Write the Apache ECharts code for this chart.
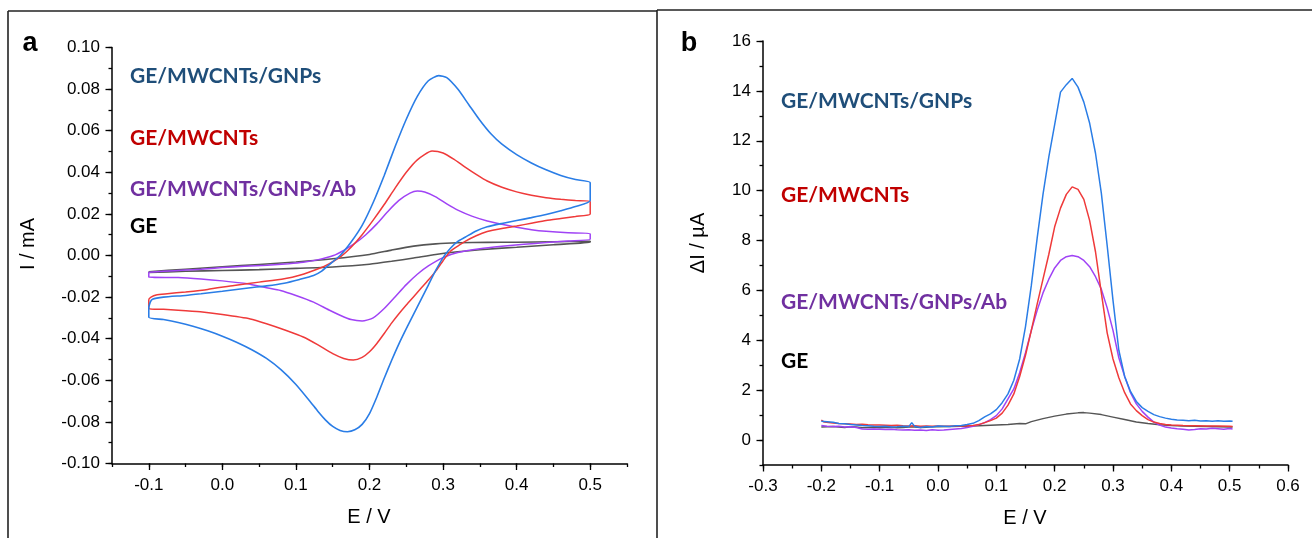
<!DOCTYPE html>
<html>
<head>
<meta charset="utf-8">
<script src="https://cdn.jsdelivr.net/npm/echarts@6/dist/echarts.min.js"></script>
<style>
html,body{margin:0;padding:0;background:#fff;}
#chart{width:1312px;height:538px;}
</style>
</head>
<body>
<div id="chart"></div>
<script>
// ---------- Panel a: cyclic voltammograms (E / V, I / mA) ----------
const cvBlueFwd = [[-0.1,-0.0248],[-0.098,-0.0224],[-0.095,-0.0210],[-0.08,-0.0200],[-0.05,-0.0192],[-0.029,-0.0184],[0.0,-0.0172],[0.038,-0.0155],[0.06,-0.0146],[0.084,-0.0133],[0.105,-0.0115],[0.124,-0.0096],[0.135,-0.0075],[0.145,-0.0045],[0.16,0.0],[0.175,0.0065],[0.19,0.0145],[0.205,0.0255],[0.22,0.0385],[0.235,0.0525],[0.25,0.0655],[0.265,0.0765],[0.28,0.0840],[0.294,0.0865],[0.305,0.0855],[0.32,0.0800],[0.335,0.0725],[0.35,0.0650],[0.365,0.0585],[0.38,0.0535],[0.40,0.0485],[0.42,0.0445],[0.44,0.0412],[0.46,0.0385],[0.48,0.0365],[0.50,0.0350]];
const cvBlueRev = [[0.50,0.0265],[0.48,0.0235],[0.46,0.0215],[0.44,0.0197],[0.42,0.0182],[0.40,0.0168],[0.38,0.0154],[0.36,0.0138],[0.345,0.0118],[0.33,0.0088],[0.32,0.0068],[0.31,0.0035],[0.30,-0.0010],[0.29,-0.0072],[0.28,-0.0142],[0.27,-0.0212],[0.26,-0.0282],[0.25,-0.0352],[0.24,-0.0425],[0.23,-0.0505],[0.22,-0.0590],[0.21,-0.0680],[0.20,-0.0760],[0.19,-0.0812],[0.18,-0.0838],[0.17,-0.0847],[0.16,-0.0841],[0.15,-0.0822],[0.14,-0.0790],[0.13,-0.0750],[0.12,-0.0705],[0.10,-0.0620],[0.08,-0.0550],[0.06,-0.0495],[0.04,-0.0453],[0.02,-0.0418],[0.0,-0.0388],[-0.02,-0.0362],[-0.04,-0.0340],[-0.06,-0.0322],[-0.08,-0.0308],[-0.1,-0.0297]];
const cvRedFwd = [[-0.1,-0.0210],[-0.097,-0.0200],[-0.09,-0.0190],[-0.075,-0.0184],[-0.05,-0.0175],[-0.02,-0.0163],[0.016,-0.0144],[0.05,-0.0128],[0.084,-0.0112],[0.105,-0.0095],[0.133,-0.0060],[0.145,-0.0040],[0.16,-0.0008],[0.175,0.0040],[0.19,0.0100],[0.205,0.0170],[0.22,0.0245],[0.235,0.0325],[0.25,0.0400],[0.265,0.0460],[0.285,0.0502],[0.30,0.0493],[0.315,0.0462],[0.33,0.0425],[0.345,0.0390],[0.36,0.0358],[0.38,0.0328],[0.40,0.0306],[0.42,0.0290],[0.44,0.0278],[0.46,0.0270],[0.48,0.0264],[0.50,0.0260]];
const cvRedRev = [[0.50,0.0200],[0.48,0.0188],[0.46,0.0178],[0.44,0.0168],[0.42,0.0155],[0.40,0.0142],[0.38,0.0130],[0.36,0.0115],[0.345,0.0095],[0.33,0.0068],[0.32,0.0045],[0.31,0.0020],[0.30,-0.0025],[0.29,-0.0075],[0.28,-0.0118],[0.27,-0.0158],[0.26,-0.0198],[0.25,-0.0238],[0.24,-0.0280],[0.23,-0.0325],[0.22,-0.0375],[0.21,-0.0423],[0.20,-0.0463],[0.19,-0.0490],[0.178,-0.0503],[0.165,-0.0495],[0.15,-0.0472],[0.13,-0.0430],[0.11,-0.0392],[0.084,-0.0357],[0.06,-0.0328],[0.038,-0.0305],[0.0,-0.0284],[-0.03,-0.0271],[-0.06,-0.0263],[-0.08,-0.0259],[-0.1,-0.0256]];
const cvPurpleFwd = [[-0.1,-0.0080],[-0.08,-0.0076],[-0.05,-0.0070],[-0.029,-0.0066],[0.0,-0.0058],[0.03,-0.0052],[0.061,-0.0047],[0.09,-0.0040],[0.11,-0.0033],[0.129,-0.0021],[0.151,0.0],[0.165,0.0025],[0.18,0.0058],[0.195,0.0100],[0.21,0.0152],[0.225,0.0212],[0.24,0.0265],[0.255,0.0300],[0.265,0.0310],[0.275,0.0305],[0.29,0.0282],[0.305,0.0248],[0.32,0.0218],[0.34,0.0188],[0.36,0.0166],[0.38,0.0150],[0.40,0.0136],[0.42,0.0124],[0.44,0.0116],[0.47,0.0109],[0.50,0.0105]];
const cvPurpleRev = [[0.50,0.0078],[0.47,0.0070],[0.44,0.0062],[0.41,0.0054],[0.38,0.0044],[0.35,0.0032],[0.32,0.0014],[0.30,-0.0010],[0.28,-0.0050],[0.265,-0.0090],[0.25,-0.0140],[0.235,-0.0198],[0.22,-0.0255],[0.205,-0.0300],[0.19,-0.0315],[0.175,-0.0308],[0.16,-0.0287],[0.145,-0.0262],[0.124,-0.0224],[0.10,-0.0192],[0.079,-0.0168],[0.06,-0.0155],[0.034,-0.0136],[0.0,-0.0122],[-0.029,-0.0113],[-0.06,-0.0106],[-0.1,-0.0104]];
const cvGrayFwd = [[-0.1,-0.0078],[-0.05,-0.0066],[0.0,-0.0054],[0.05,-0.0043],[0.10,-0.0031],[0.15,-0.0016],[0.20,0.0005],[0.23,0.0026],[0.26,0.0045],[0.29,0.0056],[0.32,0.0061],[0.36,0.0063],[0.40,0.0064],[0.45,0.0066],[0.50,0.0068]];
const cvGrayRev = [[0.50,0.0064],[0.45,0.0052],[0.40,0.0040],[0.35,0.0028],[0.32,0.0018],[0.29,0.0005],[0.26,-0.0012],[0.23,-0.0028],[0.20,-0.0042],[0.15,-0.0055],[0.10,-0.0062],[0.05,-0.0068],[0.0,-0.0072],[-0.05,-0.0076],[-0.1,-0.0082]];

// ---------- Panel b: differential pulse voltammograms (E / V, ΔI / µA) ----------
const dpvBlue = [[-0.2,0.75],[-0.19,0.73],[-0.18,0.71],[-0.17,0.66],[-0.16,0.65],[-0.15,0.62],[-0.14,0.60],[-0.13,0.58],[-0.12,0.57],[-0.11,0.55],[-0.10,0.54],[-0.09,0.55],[-0.08,0.52],[-0.07,0.53],[-0.06,0.55],[-0.05,0.54],[-0.045,0.70],[-0.04,0.55],[-0.03,0.50],[-0.02,0.54],[-0.01,0.52],[0.0,0.56],[0.01,0.55],[0.02,0.54],[0.03,0.57],[0.04,0.58],[0.05,0.62],[0.06,0.67],[0.07,0.78],[0.08,0.93],[0.09,1.05],[0.10,1.22],[0.11,1.50],[0.12,1.85],[0.13,2.40],[0.14,3.25],[0.15,4.55],[0.16,6.20],[0.17,8.10],[0.18,9.85],[0.19,11.35],[0.20,12.65],[0.21,13.95],[0.22,14.25],[0.23,14.50],[0.24,14.15],[0.25,13.55],[0.26,12.70],[0.27,11.50],[0.28,9.90],[0.29,7.80],[0.30,5.60],[0.31,3.60],[0.32,2.55],[0.33,1.95],[0.34,1.55],[0.35,1.30],[0.36,1.15],[0.37,1.02],[0.38,0.94],[0.39,0.88],[0.40,0.83],[0.41,0.80],[0.42,0.79],[0.43,0.77],[0.44,0.79],[0.45,0.76],[0.46,0.77],[0.47,0.75],[0.48,0.77],[0.49,0.75],[0.50,0.76],[0.505,0.75]];
const dpvRed = [[-0.2,0.80],[-0.195,0.72],[-0.18,0.68],[-0.17,0.66],[-0.16,0.65],[-0.15,0.64],[-0.14,0.62],[-0.13,0.63],[-0.12,0.61],[-0.11,0.60],[-0.10,0.60],[-0.09,0.59],[-0.08,0.58],[-0.07,0.59],[-0.06,0.57],[-0.05,0.56],[-0.04,0.57],[-0.03,0.55],[-0.02,0.56],[-0.01,0.55],[0.0,0.56],[0.01,0.55],[0.02,0.55],[0.03,0.56],[0.04,0.56],[0.05,0.57],[0.06,0.58],[0.07,0.62],[0.08,0.70],[0.09,0.78],[0.10,0.88],[0.11,1.08],[0.12,1.40],[0.13,1.85],[0.14,2.55],[0.15,3.40],[0.16,4.40],[0.17,5.45],[0.18,6.45],[0.19,7.45],[0.20,8.55],[0.21,9.30],[0.22,9.85],[0.23,10.15],[0.24,10.05],[0.25,9.65],[0.26,8.80],[0.27,7.55],[0.28,5.90],[0.29,4.30],[0.30,3.25],[0.31,2.50],[0.32,1.90],[0.33,1.45],[0.34,1.18],[0.35,0.98],[0.36,0.82],[0.37,0.72],[0.38,0.66],[0.39,0.62],[0.40,0.60],[0.42,0.58],[0.44,0.57],[0.46,0.56],[0.48,0.56],[0.50,0.55],[0.505,0.54]];
const dpvPurple = [[-0.2,0.58],[-0.19,0.55],[-0.18,0.54],[-0.17,0.55],[-0.16,0.52],[-0.15,0.53],[-0.14,0.50],[-0.13,0.44],[-0.12,0.43],[-0.11,0.44],[-0.10,0.43],[-0.09,0.42],[-0.08,0.43],[-0.07,0.41],[-0.06,0.40],[-0.05,0.41],[-0.04,0.39],[-0.03,0.40],[-0.02,0.38],[-0.01,0.41],[0.0,0.39],[0.01,0.40],[0.02,0.42],[0.03,0.44],[0.04,0.46],[0.05,0.50],[0.06,0.55],[0.07,0.62],[0.08,0.70],[0.09,0.82],[0.10,0.98],[0.11,1.25],[0.12,1.65],[0.13,2.05],[0.14,2.70],[0.15,3.50],[0.16,4.40],[0.17,5.20],[0.18,5.90],[0.19,6.45],[0.20,6.90],[0.21,7.20],[0.22,7.35],[0.23,7.40],[0.24,7.35],[0.25,7.20],[0.26,6.95],[0.27,6.55],[0.28,6.05],[0.29,5.30],[0.30,4.40],[0.31,3.30],[0.32,2.55],[0.33,1.90],[0.34,1.45],[0.35,1.15],[0.36,0.92],[0.37,0.72],[0.38,0.60],[0.39,0.52],[0.40,0.48],[0.41,0.45],[0.42,0.43],[0.43,0.40],[0.44,0.42],[0.45,0.45],[0.46,0.44],[0.47,0.47],[0.48,0.45],[0.49,0.43],[0.50,0.46],[0.505,0.44]];
const dpvGray = [[-0.2,0.52],[-0.19,0.53],[-0.18,0.54],[-0.17,0.52],[-0.16,0.50],[-0.15,0.53],[-0.14,0.52],[-0.13,0.49],[-0.12,0.50],[-0.11,0.51],[-0.10,0.49],[-0.09,0.50],[-0.08,0.51],[-0.07,0.49],[-0.06,0.50],[-0.05,0.52],[-0.04,0.52],[-0.03,0.50],[-0.02,0.51],[-0.01,0.53],[0.0,0.53],[0.02,0.54],[0.04,0.55],[0.06,0.56],[0.08,0.58],[0.10,0.60],[0.12,0.62],[0.14,0.66],[0.15,0.65],[0.16,0.74],[0.18,0.86],[0.20,0.96],[0.22,1.04],[0.24,1.09],[0.25,1.10],[0.26,1.08],[0.28,1.02],[0.30,0.92],[0.32,0.82],[0.34,0.72],[0.36,0.66],[0.38,0.61],[0.40,0.58],[0.42,0.56],[0.44,0.55],[0.46,0.54],[0.48,0.53],[0.50,0.52],[0.505,0.52]];

// ---------- tick values ----------
const xTicksA = [-0.1, 0.0, 0.1, 0.2, 0.3, 0.4, 0.5];
const yTicksA = [-0.10, -0.08, -0.06, -0.04, -0.02, 0.00, 0.02, 0.04, 0.06, 0.08, 0.10];
const xTicksB = [-0.3, -0.2, -0.1, 0.0, 0.1, 0.2, 0.3, 0.4, 0.5, 0.6];
const yTicksB = [0, 2, 4, 6, 8, 10, 12, 14, 16];

const seriesNames = ['GE/MWCNTs/GNPs','GE/MWCNTs','GE/MWCNTs/GNPs/Ab','GE'];
const lineColors = ['#2a7de6','#ef3a3a','#a043f5','#555555'];
const textColors = ['#1f4e79','#c00000','#7030a0','#000000'];

function loop(fwd, rev){ return fwd.concat(rev, [fwd[0]]); }

const chart = echarts.init(document.getElementById('chart'), null, {renderer:'canvas'});

const axisLine = {show:true, onZero:false, lineStyle:{color:'#000', width:1.5}};
const minorTickStyle = {show:true, inside:false, length:3.5, lineStyle:{color:'#000', width:1.3}};
const labelFont = {color:'#000', fontSize:17, fontFamily:'Liberation Sans, Arial, sans-serif'};

function baseAxis(type, grid, min, max, interval, pos){
  return {type:'value', gridIndex:grid, position:pos, min, max, interval, axisLine, axisTick:minorTickStyle,
    splitLine:{show:false}, axisLabel:{show:false}};
}
function majorAxis(grid, min, max, pos, ticks, fmt, margin){
  return {type:'value', gridIndex:grid, position:pos, min, max, axisLine:{show:false, onZero:false},
    splitLine:{show:false},
    axisTick:{show:true, inside:false, length:6.5, customValues:ticks, lineStyle:{color:'#000', width:1.3}},
    axisLabel:Object.assign({show:true, margin, customValues:ticks, formatter:fmt}, labelFont)};
}
const f1 = v => (Math.round(v*10)/10).toFixed(1);
const f2 = v => (Math.round(v*100)/100).toFixed(2);
const f0 = v => String(Math.round(v));

const option = {
  backgroundColor:'#fff',
  animation:false,
  grid:[
    {left:112, top:47.5, width:515, height:416},
    {left:763, top:41, width:525, height:424}
  ],
  xAxis:[
    baseAxis('x', 0, -0.15, 0.55, 0.05, 'bottom'),
    baseAxis('x', 1, -0.3, 0.6, 0.05, 'bottom'),
    majorAxis(0, -0.15, 0.55, 'bottom', xTicksA, f1, 13),
    majorAxis(1, -0.3, 0.6, 'bottom', xTicksB, f1, 13)
  ],
  yAxis:[
    baseAxis('y', 0, -0.1, 0.1, 0.01, 'left'),
    baseAxis('y', 1, -1, 16, 1, 'left'),
    majorAxis(0, -0.1, 0.1, 'left', yTicksA, f2, 12),
    majorAxis(1, -1, 16, 'left', yTicksB, f0, 12)
  ],
  series:[
    {name:'GE', type:'line', xAxisIndex:0, yAxisIndex:0, data:loop(cvGrayFwd,cvGrayRev), showSymbol:false, smooth:0.2, lineStyle:{color:lineColors[3], width:1.6}},
    {name:'GE/MWCNTs/GNPs/Ab', type:'line', xAxisIndex:0, yAxisIndex:0, data:loop(cvPurpleFwd,cvPurpleRev), showSymbol:false, smooth:0.2, lineStyle:{color:lineColors[2], width:1.5}},
    {name:'GE/MWCNTs', type:'line', xAxisIndex:0, yAxisIndex:0, data:loop(cvRedFwd,cvRedRev), showSymbol:false, smooth:0.2, lineStyle:{color:lineColors[1], width:1.5}},
    {name:'GE/MWCNTs/GNPs', type:'line', xAxisIndex:0, yAxisIndex:0, data:loop(cvBlueFwd,cvBlueRev), showSymbol:false, smooth:0.2, lineStyle:{color:lineColors[0], width:1.6}},
    {name:'GE b', type:'line', xAxisIndex:1, yAxisIndex:1, data:dpvGray, showSymbol:false, lineStyle:{color:lineColors[3], width:1.5}},
    {name:'Ab b', type:'line', xAxisIndex:1, yAxisIndex:1, data:dpvPurple, showSymbol:false, lineStyle:{color:lineColors[2], width:1.5}},
    {name:'MWCNTs b', type:'line', xAxisIndex:1, yAxisIndex:1, data:dpvRed, showSymbol:false, lineStyle:{color:lineColors[1], width:1.5}},
    {name:'GNPs b', type:'line', xAxisIndex:1, yAxisIndex:1, data:dpvBlue, showSymbol:false, lineStyle:{color:lineColors[0], width:1.5}}
  ],
  graphic:[]
};

const frameStyle = {stroke:'#222', lineWidth:1.6};
const annFont = 'bold 21px Lato, "Open Sans", sans-serif';
const axFont = '20px "Liberation Sans", Arial, sans-serif';
const annA = [76, 138, 189, 226];
const annB = [101, 195, 302, 361];
const g = option.graphic;
g.push({type:'line', shape:{x1:8,y1:11,x2:8,y2:540}, style:frameStyle, silent:true});
g.push({type:'line', shape:{x1:8,y1:11,x2:657,y2:11}, style:frameStyle, silent:true});
g.push({type:'line', shape:{x1:657,y1:10,x2:657,y2:540}, style:frameStyle, silent:true});
g.push({type:'line', shape:{x1:657,y1:10,x2:1312,y2:10}, style:frameStyle, silent:true});
g.push({type:'text', x:30, y:44, style:{text:'a', font:'bold 27px "Liberation Sans", Arial, sans-serif', fill:'#000', align:'center', verticalAlign:'middle'}});
g.push({type:'text', x:689, y:44, style:{text:'b', font:'bold 27px "Liberation Sans", Arial, sans-serif', fill:'#000', align:'center', verticalAlign:'middle'}});
g.push({type:'text', x:369, y:517, style:{text:'E / V', font:axFont, fill:'#000', align:'center', verticalAlign:'middle'}});
g.push({type:'text', x:1025, y:518, style:{text:'E / V', font:axFont, fill:'#000', align:'center', verticalAlign:'middle'}});
g.push({type:'text', x:28, y:244, rotation:Math.PI/2, style:{text:'I / mA', font:axFont, fill:'#000', align:'center', verticalAlign:'middle'}});
g.push({type:'text', x:698, y:243, rotation:Math.PI/2, style:{text:'ΔI / µA', font:axFont, fill:'#000', align:'center', verticalAlign:'middle'}});
for (let i=0;i<4;i++){
  g.push({type:'text', x:130, y:annA[i], style:{text:seriesNames[i], font:annFont, fill:textColors[i], align:'left', verticalAlign:'middle'}});
  g.push({type:'text', x:781, y:annB[i], style:{text:seriesNames[i], font:annFont, fill:textColors[i], align:'left', verticalAlign:'middle'}});
}

chart.setOption(option);
</script>
</body>
</html>
